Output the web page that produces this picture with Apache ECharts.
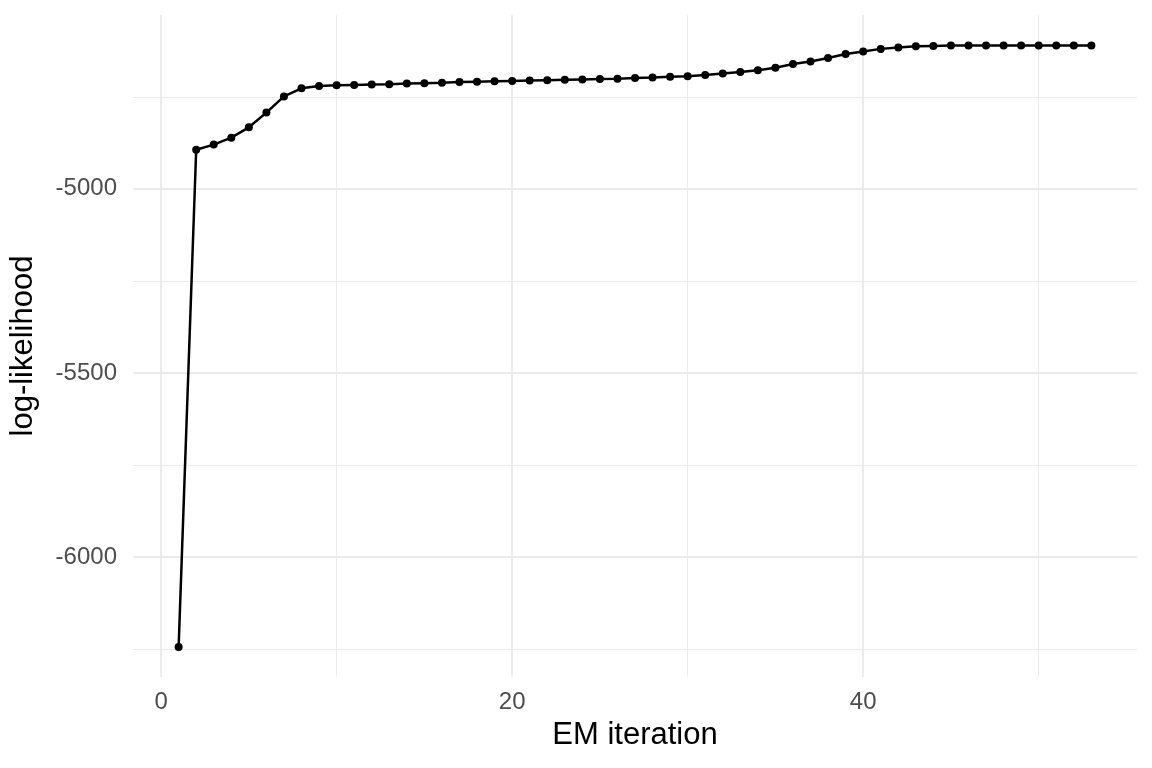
<!DOCTYPE html>
<html>
<head>
<meta charset="utf-8">
<script src="https://cdn.jsdelivr.net/npm/echarts@6/dist/echarts.min.js"></script>
<style>
  html, body { margin: 0; padding: 0; background: #fff; }
  #chart { width: 1152px; height: 768px; }
</style>
</head>
<body>
<div id="chart"></div>
<script>
// EM iterations and the log-likelihood after each one
const iterations = [];
for (let i = 1; i <= 53; i++) iterations.push(i);
const logLik = [
  -6244, -4894, -4880, -4861, -4833, -4793, -4749, -4727, -4721, -4719,
  -4718, -4717, -4716, -4714, -4713, -4712, -4710, -4709, -4708, -4707,
  -4706, -4705, -4704, -4703, -4702, -4701, -4699, -4698, -4696, -4694,
  -4691, -4687, -4683, -4678, -4671, -4661, -4654, -4645, -4634, -4627,
  -4620, -4616, -4613, -4612, -4611, -4611, -4611, -4611, -4611, -4611,
  -4611, -4611, -4611
];

// ticks / grid lines
const xLabels = [0, 20, 40];
const xMinor = [10, 30, 50];
const yLabels = [-6000, -5500, -5000];
const yMinor = [-6250, -5750, -5250, -4750];

const xMin = -1.6, xMax = 55.6;
const yMin = -6325.7, yMax = -4528;

const gridColor = '#ebebeb';
const fontFam = '"Liberation Sans", Arial, sans-serif';

let gridLines = [];
xLabels.forEach(v => gridLines.push({ xAxis: v, lineStyle: { width: 2 } }));
xMinor.forEach(v => gridLines.push({ xAxis: v, lineStyle: { width: 1 } }));
yLabels.forEach(v => gridLines.push({ yAxis: v, lineStyle: { width: 2 } }));
yMinor.forEach(v => gridLines.push({ yAxis: v, lineStyle: { width: 1 } }));

let myChart = echarts.init(document.getElementById('chart'));
myChart.setOption({
  animation: false,
  grid: { left: 133, right: 15, top: 15, bottom: 91 },
  xAxis: {
    type: 'value',
    min: xMin, max: xMax,
    name: 'EM iteration',
    nameLocation: 'middle',
    nameGap: 43,
    nameTextStyle: { color: '#000', fontSize: 31, fontFamily: fontFam },
    axisLine: { show: false },
    axisTick: { show: false },
    splitLine: { show: false },
    axisLabel: {
      customValues: xLabels,
      formatter: v => String(v),
      color: '#4d4d4d', fontSize: 24, fontFamily: fontFam, margin: 13
    }
  },
  yAxis: {
    type: 'value',
    min: yMin, max: yMax,
    name: 'log-likelihood',
    nameLocation: 'middle',
    nameGap: 94,
    nameTextStyle: { color: '#000', fontSize: 31, fontFamily: fontFam },
    axisLine: { show: false },
    axisTick: { show: false },
    splitLine: { show: false },
    axisLabel: {
      customValues: yLabels,
      formatter: v => String(v),
      color: '#4d4d4d', fontSize: 24, fontFamily: fontFam, margin: 16
    }
  },
  series: [{
    type: 'line',
    data: iterations.map((x, i) => [x, logLik[i]]),
    symbol: 'circle',
    symbolSize: 8,
    showAllSymbol: true,
    itemStyle: { color: '#000' },
    lineStyle: { color: '#000', width: 2.5 },
    z: 5,
    markLine: {
      silent: true,
      symbol: ['none', 'none'],
      label: { show: false },
      lineStyle: { color: gridColor, type: 'solid' },
      z: 1,
      data: gridLines
    }
  }]
});
</script>
</body>
</html>
